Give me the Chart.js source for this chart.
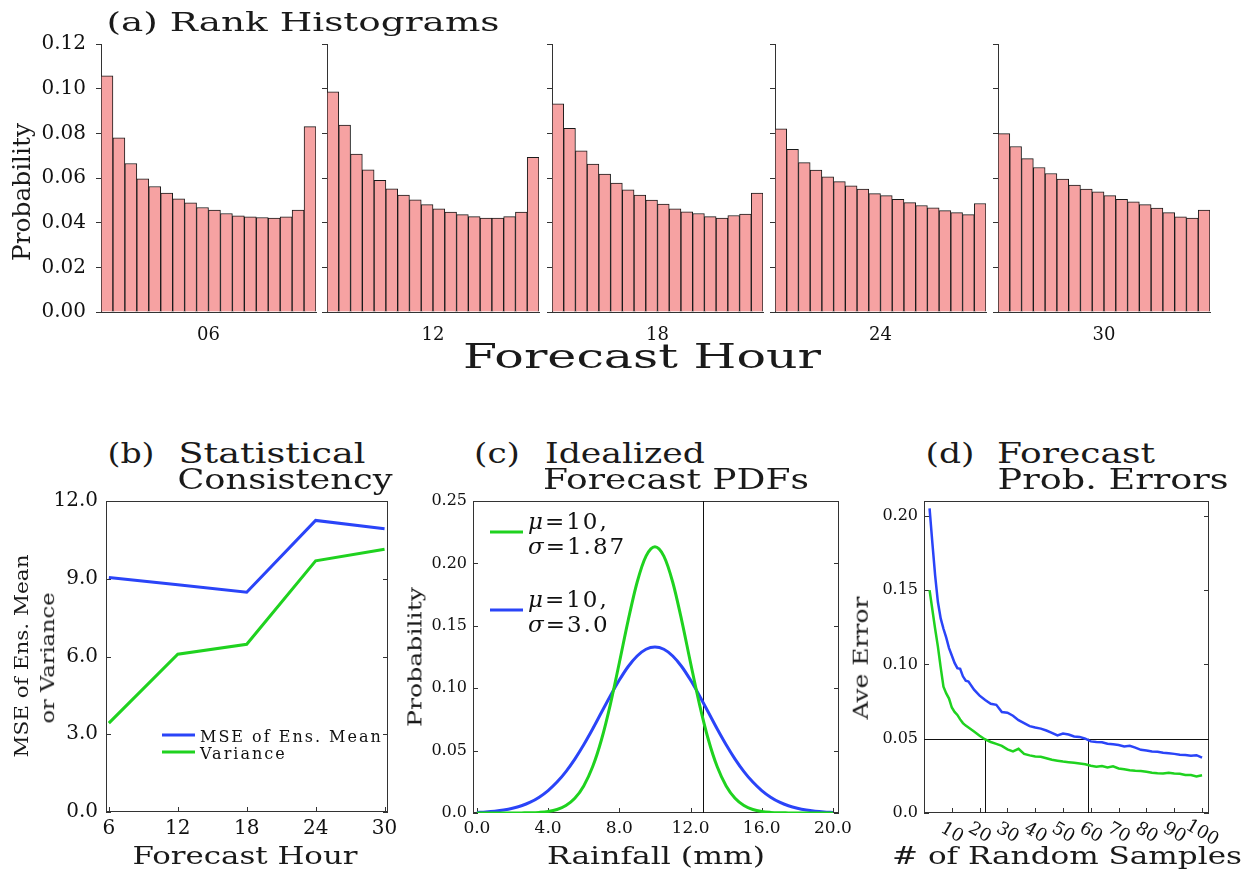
<!DOCTYPE html>
<html>
<head>
<meta charset="utf-8">
<script src="https://cdn.jsdelivr.net/npm/chart.js@4.4.1/dist/chart.umd.min.js"></script>
<style>
  body { margin: 0; background: #fff; }
  #fig { position: relative; width: 1251px; height: 873px; overflow: hidden; background: #fff; }
  #fig canvas { position: absolute; }
  .lbl { position: absolute; white-space: pre; line-height: 1; color: #1a1a1a;
         font-family: "DejaVu Serif", serif; transform-origin: 50% 50%; }
</style>
</head>
<body>
<div id="fig"></div>
<script>
// (a) rank histograms, 18 ranks for each forecast hour
var rankHours = ['06', '12', '18', '24', '30'];
var rankBins = [1, 2, 3, 4, 5, 6, 7, 8, 9, 10, 11, 12, 13, 14, 15, 16, 17, 18];
var rank06 = [0.1058, 0.0780, 0.0665, 0.0596, 0.0562, 0.0532, 0.0507, 0.0489, 0.0468,
              0.0456, 0.0441, 0.0431, 0.0426, 0.0423, 0.0420, 0.0426, 0.0456, 0.0830];
var rank12 = [0.0986, 0.0837, 0.0707, 0.0637, 0.0590, 0.0551, 0.0524, 0.0502, 0.0481,
              0.0462, 0.0447, 0.0436, 0.0427, 0.0421, 0.0421, 0.0427, 0.0447, 0.0693];
var rank18 = [0.0932, 0.0822, 0.0722, 0.0662, 0.0617, 0.0577, 0.0547, 0.0523, 0.0501,
              0.0483, 0.0462, 0.0448, 0.0441, 0.0427, 0.0421, 0.0432, 0.0438, 0.0532];
var rank24 = [0.0820, 0.0728, 0.0669, 0.0635, 0.0605, 0.0584, 0.0565, 0.0550, 0.0530,
              0.0521, 0.0505, 0.0490, 0.0477, 0.0466, 0.0454, 0.0445, 0.0436, 0.0486];
var rank30 = [0.0799, 0.0741, 0.0687, 0.0647, 0.0620, 0.0595, 0.0568, 0.0550, 0.0538,
              0.0521, 0.0505, 0.0493, 0.0481, 0.0465, 0.0445, 0.0426, 0.0421, 0.0456];

// (b) statistical consistency
var hours = [6, 12, 18, 24, 30];
var mseEnsMean = [9.05, 8.77, 8.48, 11.25, 10.93];
var ensVariance = [3.43, 6.09, 6.47, 9.69, 10.14];

// (c) idealized forecast pdfs
var rainfallMm = [0, 0.5, 1, 1.5, 2, 2.5, 3, 3.5, 4, 4.5, 5, 5.5, 6, 6.5, 7, 7.5, 8, 8.5, 9, 9.5, 10,
                  10.5, 11, 11.5, 12, 12.5, 13, 13.5, 14, 14.5, 15, 15.5, 16, 16.5, 17, 17.5, 18, 18.5, 19, 19.5, 20];
var pdfNarrow = [0, 0, 0, 0, 0, 0.0001, 0.0002, 0.0005, 0.0012, 0.0028, 0.0060, 0.0118, 0.0217, 0.0370,
                 0.0589, 0.0873, 0.1204, 0.1546, 0.1849, 0.2058, 0.2133, 0.2058, 0.1849, 0.1546, 0.1204,
                 0.0873, 0.0589, 0.0370, 0.0217, 0.0118, 0.0060, 0.0028, 0.0012, 0.0005, 0.0002, 0.0001,
                 0, 0, 0, 0, 0];
var pdfWide = [0.0005, 0.0009, 0.0015, 0.0024, 0.0038, 0.0058, 0.0087, 0.0127, 0.0180, 0.0248, 0.0332,
               0.0432, 0.0547, 0.0673, 0.0807, 0.0940, 0.1065, 0.1174, 0.1258, 0.1312, 0.1330, 0.1312,
               0.1258, 0.1174, 0.1065, 0.0940, 0.0807, 0.0673, 0.0547, 0.0432, 0.0332, 0.0248, 0.0180,
               0.0127, 0.0087, 0.0058, 0.0038, 0.0024, 0.0015, 0.0009, 0.0005];
var thresholdMm = 12.7;

// (d) forecast probability errors vs number of random samples
var nSamples = [2, 3, 4, 5, 6, 7, 8, 9, 10, 11, 12, 13, 14, 15, 16, 18, 20, 22, 24, 26, 28, 30, 32, 34,
                36, 38, 40, 42, 44, 46, 48, 50, 52, 54, 56, 58, 60, 62, 64, 66, 68, 70, 72, 74, 76, 78,
                80, 82, 84, 86, 88, 90, 92, 94, 96, 98, 100];
var errWide = [0.205, 0.182, 0.160, 0.142, 0.131, 0.124, 0.118, 0.111, 0.106, 0.101, 0.0975, 0.097,
               0.092, 0.089, 0.0885, 0.083, 0.079, 0.076, 0.0735, 0.0728, 0.068, 0.0675, 0.0655, 0.0625,
               0.0605, 0.0585, 0.0575, 0.0568, 0.0555, 0.054, 0.0522, 0.0535, 0.0528, 0.0515, 0.0512,
               0.0500, 0.0482, 0.0478, 0.0476, 0.0466, 0.0462, 0.0458, 0.0448, 0.0452, 0.0440, 0.0425,
               0.0420, 0.0414, 0.0412, 0.0405, 0.0402, 0.0398, 0.0392, 0.0390, 0.0386, 0.0389, 0.0372];
var errNarrow = [0.150, 0.137, 0.124, 0.112, 0.098, 0.085, 0.0805, 0.077, 0.071, 0.068, 0.066, 0.063,
                 0.0605, 0.0588, 0.0575, 0.0548, 0.052, 0.0495, 0.0478, 0.0465, 0.0452, 0.0428, 0.0415,
                 0.0432, 0.0398, 0.0388, 0.0380, 0.0378, 0.0368, 0.0358, 0.0352, 0.0346, 0.0342, 0.0338,
                 0.0333, 0.0328, 0.0318, 0.0312, 0.0316, 0.0306, 0.0314, 0.0300, 0.0295, 0.0288, 0.0284,
                 0.0282, 0.0277, 0.0271, 0.0268, 0.0266, 0.0271, 0.0266, 0.0264, 0.0256, 0.0255, 0.0246, 0.0254];
var errorLevel = 0.05;
var crossSamples = [22, 59];
var sampleTicks = [10, 20, 30, 40, 50, 60, 70, 80, 90, 100];

var SERIF = '"DejaVu Serif", serif';
var INK = '#111';
var BLUE = '#2a44f8';
var GREEN = '#1fd21f';
var fig = document.getElementById('fig');

// box round the plot with inward tick marks
var framePlugin = {
  id: 'frame',
  beforeDatasetsDraw: function (chart, args, o) {
    var a = chart.chartArea, ctx = chart.ctx, len = o.len || 5;
    var xs = chart.scales.x, ys = chart.scales.y;
    ctx.save();
    ctx.strokeStyle = '#333';
    ctx.lineWidth = 1;
    ctx.strokeRect(Math.round(a.left) + 0.5, Math.round(a.top) + 0.5,
                   Math.round(a.right - a.left) - 1, Math.round(a.bottom - a.top) - 1);
    ctx.beginPath();
    ys.ticks.forEach(function (t) {
      var py = Math.round(ys.getPixelForValue(t.value)) + 0.5;
      ctx.moveTo(a.left, py); ctx.lineTo(a.left + len, py);
      ctx.moveTo(a.right, py); ctx.lineTo(a.right - len, py);
    });
    xs.ticks.forEach(function (t) {
      var px = Math.round(xs.getPixelForValue(t.value)) + 0.5;
      ctx.moveTo(px, a.bottom); ctx.lineTo(px, a.bottom - len);
    });
    ctx.stroke();
    ctx.restore();
  }
};

var refLinePlugin = {
  id: 'refLines',
  beforeDatasetsDraw: function (chart, args, o) {
    var xs = chart.scales.x, ys = chart.scales.y, a = chart.chartArea, ctx = chart.ctx;
    ctx.save();
    ctx.strokeStyle = '#111';
    ctx.lineWidth = 1;
    ctx.beginPath();
    (o.horizontal || []).forEach(function (v) {
      var py = Math.round(ys.getPixelForValue(v)) + 0.5;
      ctx.moveTo(a.left, py); ctx.lineTo(a.right, py);
    });
    var top = o.upTo !== undefined ? ys.getPixelForValue(o.upTo) : a.top;
    (o.vertical || []).forEach(function (v) {
      var px = Math.round(xs.getPixelForValue(v)) + 0.5;
      ctx.moveTo(px, a.bottom); ctx.lineTo(px, top);
    });
    ctx.stroke();
    ctx.restore();
  }
};

// line legend drawn inside the plot, labels may have two lines
var lineKeyPlugin = {
  id: 'lineKey',
  afterDatasetsDraw: function (chart, args, o) {
    var a = chart.chartArea, ctx = chart.ctx;
    ctx.save();
    ctx.textBaseline = 'alphabetic';
    ctx.fillStyle = INK;
    chart.data.datasets.forEach(function (ds, i) {
      var yy = a.top + o.ys[i];
      ctx.strokeStyle = ds.borderColor;
      ctx.lineWidth = 3;
      ctx.beginPath();
      ctx.moveTo(a.left + o.x0, yy); ctx.lineTo(a.left + o.x1, yy);
      ctx.stroke();
      ds.label.split('\n').forEach(function (line, k) {
        var tx = a.left + o.tx, ty = yy + o.dy[k] + 0.365 * o.size;
        ctx.letterSpacing = o.spacing + 'px';
        if (/[\u0370-\u03ff]/.test(line.charAt(0))) {
          ctx.font = 'italic ' + o.size + 'px ' + SERIF;
          ctx.fillText(line.charAt(0), tx, ty);
          tx += ctx.measureText(line.charAt(0)).width;
          line = line.slice(1);
        }
        ctx.font = o.size + 'px ' + SERIF;
        ctx.fillText(line, tx, ty);
      });
    });
    ctx.restore();
  }
};

// slanted x tick labels
var slantTickPlugin = {
  id: 'slantTicks',
  afterDraw: function (chart, args, o) {
    var xs = chart.scales.x, a = chart.chartArea, ctx = chart.ctx;
    ctx.save();
    ctx.font = o.size + 'px ' + SERIF;
    ctx.fillStyle = INK;
    ctx.textAlign = 'center';
    ctx.textBaseline = 'middle';
    o.values.forEach(function (v) {
      ctx.save();
      ctx.translate(xs.getPixelForValue(v) + o.dx, a.bottom + o.dy);
      ctx.rotate(o.angle * Math.PI / 180);
      ctx.fillText(String(v), 0, 0);
      ctx.restore();
    });
    ctx.restore();
  }
};

function makeChart(area, yW, xH, config) {
  var padTop = 24, padRight = 20;
  var c = document.createElement('canvas');
  c.width = yW + area.w + padRight;
  c.height = padTop + area.h + xH;
  c.style.left = (area.x - yW) + 'px';
  c.style.top = (area.y - padTop) + 'px';
  fig.appendChild(c);
  var o = config.options;
  o.responsive = false;
  o.animation = false;
  o.layout = { padding: { top: padTop, right: padRight, left: 0, bottom: 0 } };
  o.scales.x.afterFit = function (s) { s.height = xH; };
  o.scales.y.afterFit = function (s) { s.width = yW; };
  o.plugins = o.plugins || {};
  o.plugins.legend = { display: false };
  o.plugins.tooltip = { enabled: false };
  return new Chart(c, config);
}

// stretched text label, centred at cx, cy
var meas = document.createElement('canvas').getContext('2d');
function addText(str, cx, cy, capH, width, rot) {
  var fs = capH / 0.73;
  meas.font = fs + 'px ' + SERIF;
  var sx = width / meas.measureText(str).width;
  var d = document.createElement('div');
  d.className = 'lbl';
  d.textContent = str;
  d.style.fontSize = fs + 'px';
  d.style.left = cx + 'px';
  d.style.top = cy + 'px';
  d.style.transform = 'translate(-50%,-50%) rotate(' + (rot || 0) + 'deg) scaleX(' + sx + ')';
  fig.appendChild(d);
}
function addTextLeft(str, left, cy, capH, width) {
  addText(str, left + width / 2, cy, capH, width, 0);
}

// ---- (a) rank histograms ----
var rankSets = [rank06, rank12, rank18, rank24, rank30];
var rankLeft = [101, 327, 552, 775, 998];
var rankWidth = [215, 212, 211, 211, 212];
rankSets.forEach(function (vals, i) {
  makeChart({ x: rankLeft[i], y: 44, w: rankWidth[i], h: 268 }, i === 0 ? 101 : 10, 34, {
    type: 'bar',
    data: {
      labels: rankBins,
      datasets: [{
        data: vals, backgroundColor: '#f6a2a2', borderColor: '#1a1a1a', borderWidth: 1,
        barPercentage: 1, categoryPercentage: 1
      }]
    },
    options: {
      scales: {
        x: {
          grid: { display: false },
          border: { display: true, color: '#333', width: 1 },
          ticks: { display: false },
          title: { display: true, text: rankHours[i], color: INK,
                   font: { family: SERIF, size: 18 }, padding: { top: 4, bottom: 0 } }
        },
        y: {
          min: 0, max: 0.12,
          ticks: { stepSize: 0.02, display: i === 0, color: INK, padding: 10,
                   font: { family: SERIF, size: 20 },
                   callback: function (v) { return v.toFixed(2); } },
          grid: { drawOnChartArea: false, drawTicks: true, tickLength: 5, color: '#333' },
          border: { display: true, color: '#333', width: 1 }
        }
      }
    }
  });
});
addTextLeft('(a) Rank Histograms', 106, 22, 19, 393);
addText('Probability', 22, 192, 17, 138, -90);
addText('Forecast Hour', 642, 357, 24, 358, 0);

// ---- (b) statistical consistency ----
makeChart({ x: 106, y: 501, w: 282, h: 311 }, 60, 40, {
  type: 'line',
  data: {
    datasets: [
      { label: 'MSE of Ens. Mean', data: hours.map(function (h, i) { return { x: h, y: mseEnsMean[i] }; }),
        borderColor: BLUE, borderWidth: 3, pointRadius: 0, tension: 0 },
      { label: 'Variance', data: hours.map(function (h, i) { return { x: h, y: ensVariance[i] }; }),
        borderColor: GREEN, borderWidth: 3, pointRadius: 0, tension: 0 }
    ]
  },
  options: {
    scales: {
      x: {
        type: 'linear', min: 5.75, max: 30.3,
        afterBuildTicks: function (s) { s.ticks = hours.map(function (v) { return { value: v }; }); },
        ticks: { color: INK, padding: 5, font: { family: SERIF, size: 20 }, maxRotation: 0 },
        grid: { display: false, drawTicks: false }, border: { display: false }
      },
      y: {
        min: 0, max: 12,
        ticks: { stepSize: 3, color: INK, padding: 8, font: { family: SERIF, size: 20 },
                 callback: function (v) { return v.toFixed(1); } },
        grid: { display: false, drawTicks: false }, border: { display: false }
      }
    },
    plugins: {
      frame: { len: 5 },
      lineKey: { x0: 56, x1: 89, tx: 94, ys: [234, 251], dy: [1], size: 16, spacing: 2 }
    }
  },
  plugins: [framePlugin, lineKeyPlugin]
});
addText('(b)', 131, 453, 21, 47, 0);
addTextLeft('Statistical', 178, 453, 21, 187);
addTextLeft('Consistency', 177, 479, 21, 215);
addText('MSE of Ens. Mean', 22, 656, 13, 203, -90);
addText('or Variance', 48, 658, 13, 131, -90);
addText('Forecast Hour', 245, 856, 18, 225, 0);

// ---- (c) idealized forecast pdfs ----
makeChart({ x: 473, y: 501, w: 366, h: 312 }, 70, 40, {
  type: 'line',
  data: {
    datasets: [
      { label: 'μ=10,\nσ=1.87', data: rainfallMm.map(function (r, i) { return { x: r, y: pdfNarrow[i] }; }),
        borderColor: GREEN, borderWidth: 3, pointRadius: 0, tension: 0.4, cubicInterpolationMode: 'monotone' },
      { label: 'μ=10,\nσ=3.0', data: rainfallMm.map(function (r, i) { return { x: r, y: pdfWide[i] }; }),
        borderColor: BLUE, borderWidth: 3, pointRadius: 0, tension: 0.4, cubicInterpolationMode: 'monotone' }
    ]
  },
  options: {
    scales: {
      x: {
        type: 'linear', min: -0.22, max: 20.34,
        afterBuildTicks: function (s) { s.ticks = [0, 4, 8, 12, 16, 20].map(function (v) { return { value: v }; }); },
        ticks: { color: INK, padding: 5, font: { family: SERIF, size: 17 }, maxRotation: 0,
                 callback: function (v) { return v.toFixed(1); } },
        grid: { display: false, drawTicks: false }, border: { display: false }
      },
      y: {
        min: 0, max: 0.25,
        ticks: { stepSize: 0.05, color: INK, padding: 6, font: { family: SERIF, size: 16 },
                 callback: function (v) { return v === 0 ? '0.0' : v.toFixed(2); } },
        grid: { display: false, drawTicks: false }, border: { display: false }
      }
    },
    plugins: {
      frame: { len: 5 },
      refLines: { vertical: [thresholdMm] },
      lineKey: { x0: 17, x1: 50, tx: 55, ys: [31, 109], dy: [-11, 14], size: 23, spacing: 2 }
    }
  },
  plugins: [framePlugin, refLinePlugin, lineKeyPlugin]
});
addText('(c)', 497, 453, 21, 46, 0);
addTextLeft('Idealized', 545, 453, 21, 160);
addTextLeft('Forecast PDFs', 543, 479, 21, 266);
addText('Probability', 415, 657, 14, 140, -90);
addText('Rainfall (mm)', 656, 856, 18, 218, 0);

// ---- (d) forecast probability errors ----
makeChart({ x: 924, y: 501, w: 285, h: 312 }, 70, 40, {
  type: 'line',
  data: {
    datasets: [
      { label: 'σ=3.0', data: nSamples.map(function (n, i) { return { x: n, y: errWide[i] }; }),
        borderColor: BLUE, borderWidth: 2.5, pointRadius: 0, tension: 0 },
      { label: 'σ=1.87', data: nSamples.map(function (n, i) { return { x: n, y: errNarrow[i] }; }),
        borderColor: GREEN, borderWidth: 2.5, pointRadius: 0, tension: 0 }
    ]
  },
  options: {
    scales: {
      x: {
        type: 'linear', min: 0, max: 102.5,
        afterBuildTicks: function (s) { s.ticks = sampleTicks.map(function (v) { return { value: v }; }); },
        ticks: { display: false },
        grid: { display: false, drawTicks: false }, border: { display: false }
      },
      y: {
        min: 0, max: 0.21,
        afterBuildTicks: function (s) { s.ticks = [0, 0.05, 0.1, 0.15, 0.2].map(function (v) { return { value: v }; }); },
        ticks: { color: INK, padding: 6, font: { family: SERIF, size: 16 },
                 callback: function (v) { return v === 0 ? '0.0' : v.toFixed(2); } },
        grid: { display: false, drawTicks: false }, border: { display: false }
      }
    },
    plugins: {
      frame: { len: 5 },
      refLines: { horizontal: [errorLevel], vertical: crossSamples, upTo: errorLevel },
      slantTicks: { values: sampleTicks, size: 18, dx: 0, dy: 20, angle: 30 }
    }
  },
  plugins: [framePlugin, refLinePlugin, slantTickPlugin]
});
addText('(d)', 950, 453, 21, 49, 0);
addTextLeft('Forecast', 997, 453, 21, 158);
addTextLeft('Prob. Errors', 997, 479, 21, 231);
addText('Ave Error', 861, 658, 15, 123, -90);
addText('# of Random Samples', 1067, 856, 18, 350, 0);
</script>
</body>
</html>
